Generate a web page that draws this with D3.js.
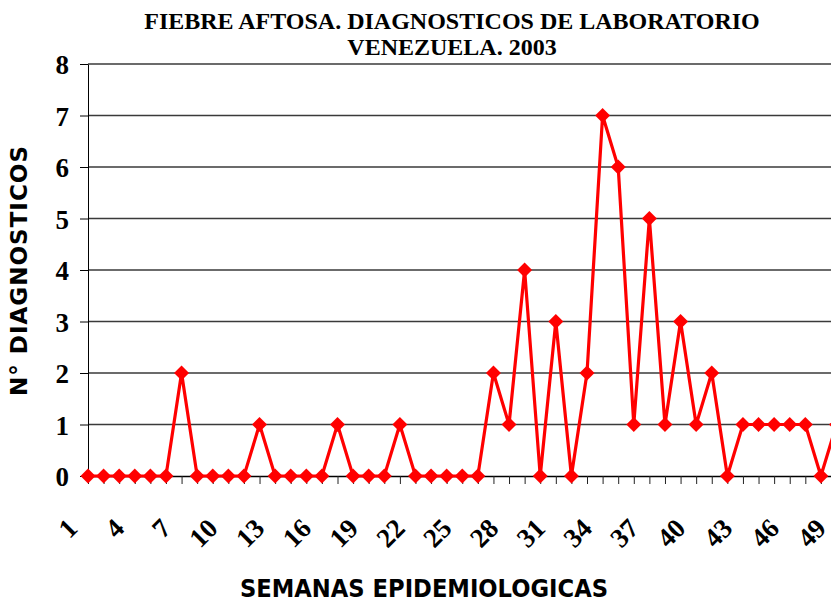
<!DOCTYPE html>
<html>
<head>
<meta charset="utf-8">
<script src="https://cdn.jsdelivr.net/npm/d3@7"></script>
<style>
    body { margin: 0; background: #fff; }
    svg { display: block; }
</style>
</head>
<body>
<svg id="chart" width="831" height="602"></svg>
<script>
var chartTitle = ["FIEBRE AFTOSA. DIAGNOSTICOS DE LABORATORIO", "VENEZUELA. 2003"];
var yTitle = "N° DIAGNOSTICOS";
var xTitle = "SEMANAS EPIDEMIOLOGICAS";

// semanas epidemiologicas (the picture is cut after week 49)
var weeks = [1, 2, 3, 4, 5, 6, 7, 8, 9, 10, 11, 12, 13, 14, 15, 16, 17, 18, 19, 20,
    21, 22, 23, 24, 25, 26, 27, 28, 29, 30, 31, 32, 33, 34, 35, 36, 37, 38, 39, 40,
    41, 42, 43, 44, 45, 46, 47, 48, 49];
var diagnosticos = [0, 0, 0, 0, 0, 0, 2, 0, 0, 0, 0, 1, 0, 0, 0, 0, 1, 0, 0, 0,
    1, 0, 0, 0, 0, 0, 2, 1, 4, 0, 3, 0, 2, 7, 6, 1, 5, 1, 3, 1,
    2, 0, 1, 1, 1, 1, 1, 0, 1];
var weekLabels = [1, 4, 7, 10, 13, 16, 19, 22, 25, 28, 31, 34, 37, 40, 43, 46, 49];
var yTicks = [0, 1, 2, 3, 4, 5, 6, 7, 8];

function drawChart() {
    var svg = d3.select('#chart');
    var serif = "'Liberation Serif', 'Times New Roman', serif";
    var sans = "'DejaVu Sans', Verdana, sans-serif";

    var x = d3.scaleLinear().domain([weeks[0], weeks[weeks.length - 1]]).range([88, 836.5]);
    var y = d3.scaleLinear().domain([0, 8]).range([476, 64]);

    // horizontal gridlines
    svg.append('g').selectAll('line')
        .data(yTicks.filter(function(d) { return d > 0; }))
        .enter().append('line')
        .attr('x1', x.range()[0]).attr('x2', x.range()[1])
        .attr('y1', function(d) { return y(d); })
        .attr('y2', function(d) { return y(d); })
        .attr('stroke', '#3a3a3a')
        .attr('stroke-width', 1.4);

    // y axis
    var yAxis = svg.append('g')
        .attr('transform', 'translate(' + x.range()[0] + ',0)')
        .call(d3.axisLeft(y).tickValues(yTicks).tickSize(8).tickSizeOuter(0).tickPadding(11));
    yAxis.select('.domain').attr('stroke', '#000');
    yAxis.selectAll('.tick line').attr('stroke', '#000');
    yAxis.selectAll('text')
        .attr('dy', '0.36em')
        .style('font-family', serif)
        .style('font-weight', 'bold')
        .style('font-size', '27px')
        .attr('fill', '#000');

    // x axis, a tick on every week
    var xAxis = svg.append('g')
        .attr('transform', 'translate(0,' + y(0) + ')')
        .call(d3.axisBottom(x).tickValues(weeks).tickSize(8).tickSizeOuter(0).tickFormat(''));
    xAxis.select('.domain').attr('stroke', '#000').attr('stroke-width', 1.4);
    xAxis.selectAll('.tick line').attr('stroke', '#222');

    // rotated week labels
    svg.append('g').selectAll('text')
        .data(weekLabels)
        .enter().append('text')
        .attr('transform', function(d) { return 'translate(' + (x(d) - 9) + ',530) rotate(-45)'; })
        .attr('text-anchor', 'end')
        .style('font-family', serif)
        .style('font-weight', 'bold')
        .style('font-size', '27px')
        .text(function(d) { return d; });

    // series
    var line = d3.line()
        .x(function(d, i) { return x(weeks[i]); })
        .y(function(d) { return y(d); });

    svg.append('path')
        .datum(diagnosticos)
        .attr('d', line)
        .attr('fill', 'none')
        .attr('stroke', '#ff0000')
        .attr('stroke-width', 3.2)
        .attr('stroke-linejoin', 'miter');

    var diamond = d3.symbol().type(d3.symbolSquare).size(112);
    svg.append('g').selectAll('path')
        .data(diagnosticos)
        .enter().append('path')
        .attr('d', diamond)
        .attr('transform', function(d, i) { return 'translate(' + x(weeks[i]) + ',' + y(d) + ') rotate(45)'; })
        .attr('fill', '#ff0000');

    // titles
    svg.append('g').selectAll('text')
        .data(chartTitle)
        .enter().append('text')
        .attr('x', 452)
        .attr('y', function(d, i) { return 28.5 + i * 26.2; })
        .attr('text-anchor', 'middle')
        .style('font-family', serif)
        .style('font-weight', 'bold')
        .style('font-size', '24px')
        .text(function(d) { return d; });

    svg.append('text')
        .attr('transform', 'translate(27,271) rotate(-90)')
        .attr('text-anchor', 'middle')
        .attr('textLength', 250)
        .attr('lengthAdjust', 'spacing')
        .style('font-family', sans)
        .style('font-weight', 'bold')
        .style('font-size', '23px')
        .text(yTitle);

    svg.append('text')
        .attr('x', 424)
        .attr('y', 596.5)
        .attr('text-anchor', 'middle')
        .attr('textLength', 368)
        .attr('lengthAdjust', 'spacingAndGlyphs')
        .style('font-family', sans)
        .style('font-weight', 'bold')
        .style('font-size', '24px')
        .text(xTitle);
}

drawChart();
</script>
</body>
</html>
